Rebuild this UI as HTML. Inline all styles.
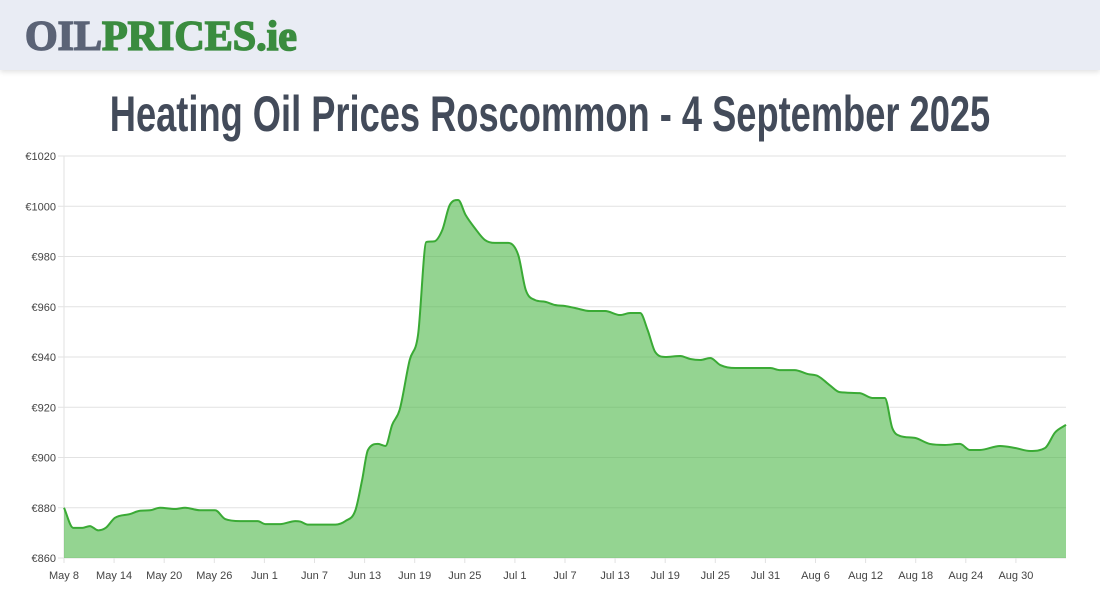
<!DOCTYPE html>
<html><head><meta charset="utf-8"><style>
body{margin:0;width:1100px;height:600px;overflow:hidden;background:#fff;font-family:"Liberation Sans",sans-serif}
#hdr{position:absolute;left:0;top:0;width:1100px;height:70px;background:#e9ecf4;box-shadow:0 2px 5px rgba(0,0,0,.12)}
#logo{position:absolute;left:25px;top:13px;font-family:"Liberation Serif",serif;font-weight:bold;font-size:42px;letter-spacing:0px;-webkit-text-stroke:1.6px currentColor;white-space:nowrap}
#title{position:absolute;left:550px;top:84px;white-space:nowrap;font-family:"Liberation Sans",sans-serif;font-weight:bold;font-size:50px;color:#434b5a;line-height:60px;transform:translateX(-50%) scaleX(0.725);transform-origin:center}
svg{position:absolute;left:0;top:0}
</style></head><body>
<div id="hdr">
<div id="logo"><span style="color:#5b6376">OIL</span><span style="color:#3a8c3f">PRICES.ie</span></div>
</div>
<div id="title">Heating Oil Prices Roscommon - 4 September 2025</div>
<svg id="chart" width="1100" height="600"></svg>
<script>
const xTickLabels=["May 8","May 14","May 20","May 26","Jun 1","Jun 7","Jun 13","Jun 19","Jun 25","Jul 1","Jul 7","Jul 13","Jul 19","Jul 25","Jul 31","Aug 6","Aug 12","Aug 18","Aug 24","Aug 30"];
const yTicks=[860,880,900,920,940,960,980,1000,1020];
const dayOffsets=[0,1.1,2.2,3.1,4.1,5.0,6.1,7.9,9.1,10.3,11.5,13.3,14.5,16.3,18.1,19.3,21.1,23.2,24.1,25.9,27.7,28.3,29.2,30.7,32.5,33.7,34.9,35.7,36.4,37.6,38.5,39.3,40.2,41.4,42.4,43.4,44.3,45.3,46.2,47.2,48.1,49.2,50.4,51.6,53.2,54.4,55.3,56.4,57.6,58.8,60.0,61.2,63.0,64.8,66.6,67.8,69.0,69.9,70.8,72.0,73.8,75.0,76.2,77.4,78.6,80.4,82.2,84.6,85.7,87.5,89.1,90.3,91.7,92.9,95.3,96.8,98.3,99.2,100.1,101.9,103.7,105.5,107.3,108.5,109.7,112.1,113.9,115.7,117.5,118.7,120];
const prices=[880,872,872,872.7,871,872,876,877.5,878.8,879,880,879.5,880,879,879,875.5,874.7,874.7,873.5,873.5,874.7,874.5,873.3,873.3,873.3,874.7,879,891,903,905.4,904.6,913,919,938.8,948.8,985.8,986,990.5,1000.5,1002.5,996.5,991.3,986.6,985.4,985.4,980.6,966.7,962.7,962,960.7,960.3,959.5,958.3,958.3,956.7,957.5,957.5,950.7,942,940,940.4,939.2,938.8,939.6,936.8,935.6,935.6,935.6,934.8,934.8,933.2,932.4,928.8,926,925.6,923.7,923.7,911.7,908.6,907.8,905.4,905,905.4,903,903,904.6,903.8,902.6,903.8,910,913];
const X0=64,X1=1066,Y0=558,Y1=156,DMAX=120,VMIN=860,VMAX=1020;
const xs=d=>X0+(X1-X0)*d/DMAX, ys=v=>Y0-(Y0-Y1)*(v-VMIN)/(VMAX-VMIN);
const svg=document.getElementById('chart'),NS="http://www.w3.org/2000/svg";
function mk(t,a){const e=document.createElementNS(NS,t);for(const k in a)e.setAttribute(k,a[k]);svg.appendChild(e);return e;}
yTicks.forEach(v=>{
 const l=mk('line',{x1:58,x2:X1,y1:ys(v),y2:ys(v),stroke:'#e2e2e2','stroke-width':1});
 
 
 const t=mk('text',{x:56,y:ys(v)+4,'text-anchor':'end','font-size':11,fill:'#444'});t.textContent='€'+v;
 
 
});
mk('line',{x1:X0,x2:X0,y1:Y1,y2:Y0+5,stroke:'#e2e2e2'});
xTickLabels.forEach((s,i)=>{
 const x=xs(i*6);
 mk('line',{x1:x,x2:x,y1:Y0,y2:Y0+5,stroke:'#e2e2e2'});
 const t=mk('text',{x:x,y:579,'text-anchor':'middle','font-size':11,fill:'#444'});t.textContent=s;
 
 
});
const n=Math.min(dayOffsets.length,prices.length);
const P=[];for(let i=0;i<n;i++)P.push([xs(dayOffsets[i]),ys(prices[i])]);
const m=[],dl=[];
for(let i=0;i<n-1;i++)dl.push((P[i+1][1]-P[i][1])/(P[i+1][0]-P[i][0]));
for(let i=0;i<n;i++){
 if(i==0)m.push(dl[0]);else if(i==n-1)m.push(dl[n-2]);
 else m.push(dl[i-1]*dl[i]<=0?0:(dl[i-1]+dl[i])/2);
}
for(let i=0;i<n-1;i++){if(dl[i]==0){m[i]=0;m[i+1]=0;continue;}const a=m[i]/dl[i],b=m[i+1]/dl[i],s=a*a+b*b;if(s>9){const t=3/Math.sqrt(s);m[i]=t*a*dl[i];m[i+1]=t*b*dl[i];}}
let d='M'+P[0][0]+','+P[0][1];
for(let i=0;i<n-1;i++){const h=(P[i+1][0]-P[i][0])/3;d+=' C'+(P[i][0]+h)+','+(P[i][1]+m[i]*h)+' '+(P[i+1][0]-h)+','+(P[i+1][1]-m[i+1]*h)+' '+P[i+1][0]+','+P[i+1][1];}
const area=mk('path',{d:d+' L'+P[n-1][0]+','+Y0+' L'+P[0][0]+','+Y0+' Z',fill:'rgba(76,184,72,0.6)'});


const line=mk('path',{d:d,fill:'none',stroke:'#3aaa35','stroke-width':2});


</script>
</body></html>
